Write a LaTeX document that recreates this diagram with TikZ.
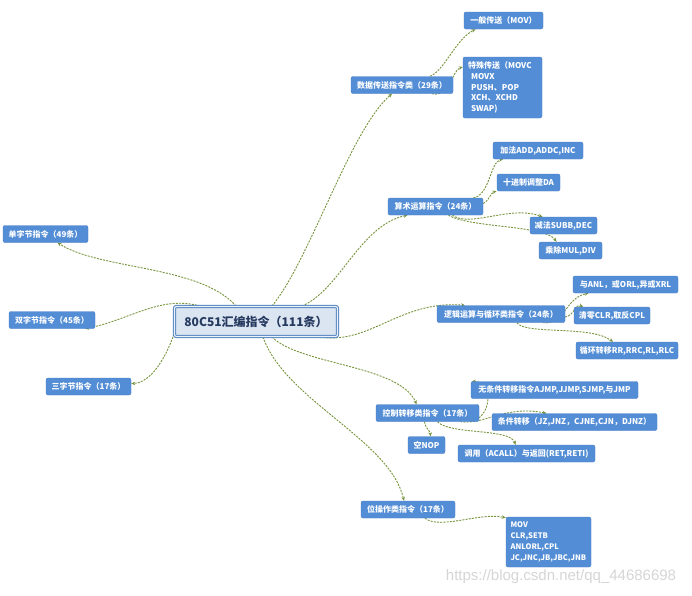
\documentclass[tikz,border=0pt]{standalone}
\usepackage{fontspec}
\setmainfont{Noto Sans CJK SC}
\newfontfamily\markfont{Liberation Sans}
\usetikzlibrary{arrows.meta,backgrounds}
\definecolor{nodeblue}{RGB}{83,141,213}
\definecolor{nodeedge}{RGB}{72,126,198}
\definecolor{rootfill}{RGB}{219,229,241}
\definecolor{rootinner}{RGB}{236,242,249}
\definecolor{rootedge}{RGB}{79,129,189}
\definecolor{roottext}{RGB}{38,58,96}
\definecolor{linkgreen}{RGB}{119,147,60}
\definecolor{markgray}{RGB}{214,214,214}
\tikzset{
  topic/.style={draw=rootedge,line width=1pt,double=rootinner,double distance=1.2pt,fill=rootfill,rounded corners=2pt,text=roottext,font=\fontsize{12}{14}\selectfont\bfseries,minimum width=163pt,minimum height=30pt,inner sep=0pt},
  twig/.style={draw=nodeedge,fill=nodeblue,rounded corners=2pt,text=white,font=\fontsize{8}{10}\selectfont\bfseries,inner sep=0pt,minimum height=17pt},
  link/.style={linkgreen,line width=0.9pt,dash pattern=on 2pt off 1.2pt,-{Stealth[length=4pt,width=3.5pt]}},
  watermark/.style={text=markgray,font=\markfont\fontsize{15}{18}\selectfont,inner sep=0pt}
}

\begin{document}
\begin{tikzpicture}[x=1pt,y=-1pt]
  \useasboundingbox (0,0) rectangle (692,595);
  \node[topic] (root) at (256,321.5) {80C51汇编指令（111条）};
  \node[twig,minimum width=85pt] (s1) at (45.5,234) {单字节指令（49条）};
  \node[twig,minimum width=86pt] (s2) at (52,320) {双字节指令（45条）};
  \node[twig,minimum width=85pt] (s3) at (88.5,386.5) {三字节指令（17条）};
  \node[twig,minimum width=102pt] (dt) at (402,85) {数据传送指令类（29条）};
  \node[twig,minimum width=79pt] (dt1) at (503.5,20.5) {一般传送（MOV）};
  \node[twig,align=left,text width=69pt,minimum height=61pt,inner xsep=5pt,font=\fontsize{8}{10.8}\selectfont\bfseries] (dt2) at (502.5,87.5) {特殊传送（MOVC\\\hspace*{3pt}MOVX\\\hspace*{3pt}PUSH、POP\\\hspace*{3pt}XCH、XCHD\\\hspace*{3pt}SWAP)};
  \node[twig,minimum width=95pt] (ar) at (435.5,206.5) {算术运算指令（24条）};
  \node[twig,minimum width=90pt] (ar1) at (538,150.5) {加法ADD,ADDC,INC};
  \node[twig,minimum width=63pt] (ar2) at (528.5,182.5) {十进制调整DA};
  \node[twig,minimum width=67pt] (ar3) at (563.5,225.5) {减法SUBB,DEC};
  \node[twig,minimum width=63pt] (ar4) at (570.5,250.5) {乘除MUL,DIV};
  \node[twig,minimum width=128pt] (lg) at (501,314) {逻辑运算与循环类指令（24条）};
  \node[twig,minimum width=105pt] (lg1) at (625.5,284.5) {与ANL，或ORL,异或XRL};
  \node[twig,minimum width=76pt] (lg2) at (612,315.5) {清零CLR,取反CPL};
  \node[twig,minimum width=102pt] (lg3) at (627,350.5) {循环转移RR,RRC,RL,RLC};
  \node[twig,minimum width=103pt] (ct) at (427.5,413) {控制转移类指令（17条）};
  \node[twig,minimum width=167pt] (ct1) at (554.5,390) {无条件转移指令AJMP,JJMP,SJMP,与JMP};
  \node[twig,minimum width=165pt] (ct2) at (574.5,422) {条件转移（JZ,JNZ，CJNE,CJN，DJNZ）};
  \node[twig,minimum width=37pt] (ct3) at (426.5,445) {空NOP};
  \node[twig,minimum width=137pt] (ct4) at (526.5,453.5) {调用（ACALL）与返回(RET,RETI)};
  \node[twig,minimum width=94pt] (bt) at (408,509.5) {位操作类指令（17条）};
  \node[twig,align=left,text width=76pt,minimum height=50pt,inner xsep=4.5pt,font=\fontsize{7.6}{11.3}\selectfont\bfseries] (bt1) at (548.5,542) {MOV\\CLR,SETB\\ANLORL,CPL\\JC,JNC,JB,JBC,JNB};
  \node[watermark] (wm) at (561,577) {https://blog.csdn.net/qq\_44686698};
  \begin{scope}[on background layer]
    \fill[white] (0,0) rectangle (692,595);
    \draw[link] ([xshift=-20pt]root.north) .. controls (200,265) and (100,270) .. ([xshift=12pt]s1.south);
    \draw[link] ([xshift=-56pt]root.north) .. controls (160,295) and (130,320) .. ([xshift=33pt]s2.south);
    \draw[link] ([yshift=3pt]root.south west) .. controls (165,360) and (150,383) .. ([yshift=3pt]s3.east);
    \draw[link] ([xshift=16pt]root.north) .. controls (310,260) and (350,130) .. ([xshift=-10pt]dt.south);
    \draw[link] ([xshift=46pt]root.north) .. controls (340,290) and (360,225) .. ([xshift=-28pt]ar.south);
    \draw[link] ([xshift=64pt]root.south) .. controls (370,345) and (400,300) .. ([xshift=-36pt]lg.north);
    \draw[link] ([xshift=16pt]root.south) .. controls (300,365) and (400,365) .. ([xshift=-11pt]ct.north);
    \draw[link] ([xshift=7pt]root.south) .. controls (285,400) and (390,440) .. ([xshift=-4pt]bt.north);
    \draw[link] ([xshift=28pt]dt.north) .. controls (445,70) and (455,40) .. ([xshift=-28pt]dt1.south);
    \draw[link] ([xshift=30pt]dt.south) .. controls (450,98) and (452,70) .. ([yshift=20.5pt]dt2.west);
    \draw[link] ([xshift=38pt]ar.north) .. controls (490,195) and (490,162) .. ([xshift=-35pt]ar1.south);
    \draw[link] ([yshift=3pt]ar.east) .. controls (490,200) and (490,193) .. ([xshift=-32pt]ar2.south);
    \draw[link] ([xshift=17pt]ar.south) .. controls (470,228) and (510,205) .. ([xshift=-21pt]ar3.north);
    \draw[link] ([xshift=13pt]ar.south) .. controls (470,228) and (545,225) .. ([xshift=-14pt]ar4.north);
    \draw[link] ([xshift=42pt]lg.south) .. controls (565,325) and (565,298) .. ([xshift=-37pt]lg1.south);
    \draw[link] ([yshift=-3pt]lg.east) .. controls (575,315) and (575,303) .. ([xshift=-29pt]lg2.north);
    \draw[link] ([xshift=16pt]lg.south) .. controls (525,335) and (590,325) .. ([xshift=-14pt]lg3.north);
    \draw[link] ([xshift=-9pt]ct.south east) .. controls (492,418) and (494,382) .. ([xshift=1pt]ct1.north west);
    \draw[link] ([xshift=-19pt]ct.south east) .. controls (485,425) and (505,405) .. ([xshift=-28pt]ct2.north);
    \draw[link] ([xshift=-3pt]ct.south) .. controls (426,430) and (430,430) .. ([xshift=4pt]ct3.north);
    \draw[link] ([xshift=10pt]ct.south) .. controls (450,435) and (510,428) .. ([xshift=-11pt]ct4.north);
    \draw[link] ([xshift=17pt]bt.south) .. controls (440,530) and (480,512) .. ([yshift=-1pt]bt1.north west);
  \end{scope}
\end{tikzpicture}
\end{document}
